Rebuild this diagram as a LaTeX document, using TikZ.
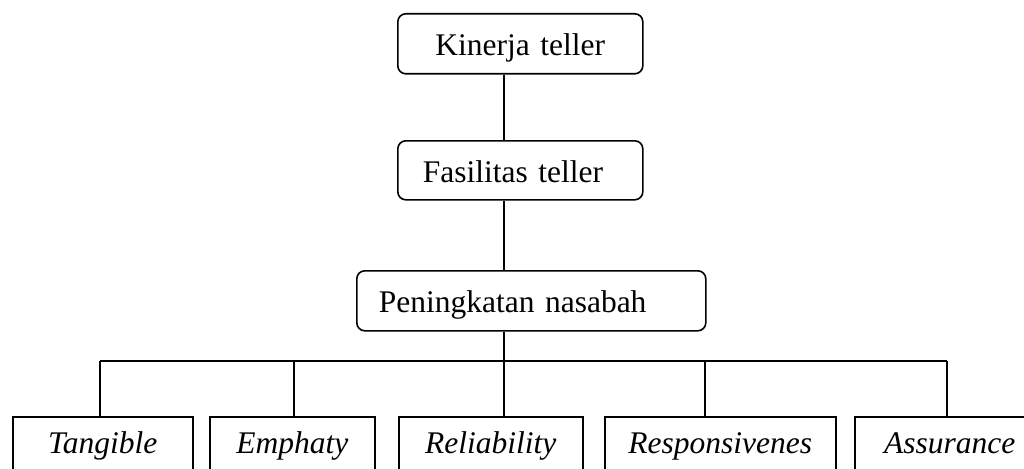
\documentclass[tikz,border=0pt]{standalone}
\usepackage{fontspec}
\setmainfont{Liberation Serif}
\begin{document}
\begin{tikzpicture}[x=1pt,y=-1pt,
  every node/.style={font=\fontsize{31.5}{38}\selectfont},
  topbox/.style={draw, line width=1.6pt, rounded corners=8pt, anchor=north west, inner ysep=0pt, text height=42pt},
  botbox/.style={draw, line width=1.6pt, anchor=north west, inner xsep=0pt, inner ysep=0pt, align=center, text height=37pt, text depth=40pt, font=\fontsize{31.5}{38}\selectfont\itshape},
  conn/.style={line width=1.6pt}]
\useasboundingbox (0,0) rectangle (1024,468);
\clip (0,0) rectangle (1024,468);
\node[topbox, inner xsep=0pt, text width=245pt, align=center, text depth=18pt] (k) at (397,13) {Kinerja teller};
\node[topbox, inner xsep=25pt, text width=195pt, align=left, text depth=17pt] (f) at (397,140) {Fasilitas teller};
\node[topbox, inner xsep=22pt, text width=305pt, align=left, text depth=18pt] (p) at (356,270) {Peningkatan nasabah};
\node[botbox, text width=180pt] (t) at (12,416) {Tangible};
\node[botbox, text width=165pt] (e) at (209,416) {Emphaty};
\node[botbox, text width=184pt] (r) at (398,416) {Reliability};
\node[botbox, text width=231pt] (s) at (604,416) {Responsivenes};
\node[botbox, text width=190pt] (a) at (854,416) {Assurance};
\coordinate (spine) at (504,0);
\coordinate (d1) at (100,361);
\coordinate (d2) at (294,361);
\coordinate (d3) at (504,361);
\coordinate (d4) at (705,361);
\coordinate (d5) at (947,361);
\draw[conn] (k.south -| spine) -- (f.north -| spine);
\draw[conn] (f.south -| spine) -- (p.north -| spine);
\draw[conn] (p.south -| spine) -- (d3);
\draw[conn] (d1) -- (d5);
\draw[conn] (d1) -- (d1 |- t.north);
\draw[conn] (d2) -- (d2 |- e.north);
\draw[conn] (d3) -- (d3 |- r.north);
\draw[conn] (d4) -- (d4 |- s.north);
\draw[conn] (d5) -- (d5 |- a.north);
\end{tikzpicture}
\end{document}
